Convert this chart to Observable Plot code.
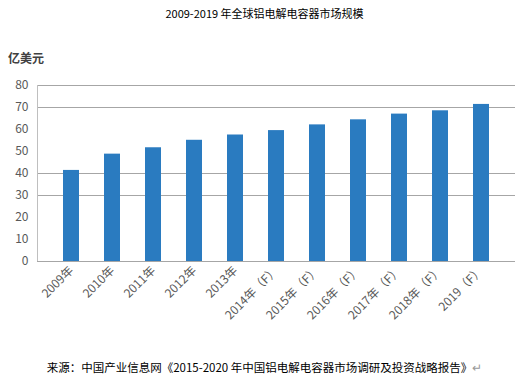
<!DOCTYPE html>
<html>
<head>
<meta charset="utf-8">
<script src="https://cdn.jsdelivr.net/npm/d3@7"></script>
<script src="https://cdn.jsdelivr.net/npm/@observablehq/plot@0.6"></script>
<style>
  body { margin: 0; background: #fff; width: 529px; height: 379px; overflow: hidden; position: relative; font-family: "Noto Sans CJK SC", "Noto Sans", sans-serif; }
  #title { position: absolute; top: 5px; left: 0; width: 529px; text-align: center; font-size: 11px; color: #000; }
  #unit { position: absolute; top: 49px; left: 8px; font-size: 12px; font-weight: bold; color: #404040; }
  #caption { position: absolute; top: 359px; left: 0; width: 529px; text-align: center; font-size: 11.5px; color: #000; }
  #chart { position: absolute; top: 0; left: 0; }
</style>
</head>
<body>
<div id="title">2009-2019 年全球铝电解电容器市场规模</div>
<div id="unit">亿美元</div>
<div id="chart"></div>
<div id="caption">来源：中国产业信息网《2015-2020 年中国铝电解电容器市场调研及投资战略报告》<span style="color:#999">↵</span></div>
<script>
const categories = ["2009年","2010年","2011年","2012年","2013年","2014年（F）","2015年（F）","2016年（F）","2017年（F）","2018年（F）","2019（F）"];
const values = [41.4, 48.8, 51.7, 55.1, 57.5, 59.5, 62.1, 64.4, 67.0, 68.5, 71.4];
const yTicks = [0, 10, 20, 30, 40, 50, 60, 70, 80];
const gridLines = [30, 40, 70, 80];

const data = categories.map((c, i) => ({category: c, value: values[i]}));

const chart = Plot.plot({
  width: 529,
  height: 379,
  marginTop: 85,
  marginBottom: 118,
  marginLeft: 37,
  marginRight: 14,
  style: {fontFamily: "'Noto Sans CJK SC', 'Noto Sans', sans-serif", fontSize: "12px", color: "#595959", background: "transparent"},
  x: {domain: categories, padding: 0.6, label: null, tickSize: 0, tickRotate: -45, tickPadding: 7},
  y: {domain: [0, 80], ticks: yTicks, label: null, tickSize: 0, tickPadding: 9},
  marks: [
    Plot.ruleY(gridLines, {stroke: "#a6a6a6", strokeWidth: 1}),
    Plot.frame({anchor: "left", stroke: "#bfbfbf"}),
    Plot.barY(data, {x: "category", y: "value", fill: "#2a7bc0"}),
    Plot.ruleY([0], {stroke: "#a6a6a6", strokeWidth: 1})
  ]
});
document.getElementById("chart").appendChild(chart);
</script>
</body>
</html>
